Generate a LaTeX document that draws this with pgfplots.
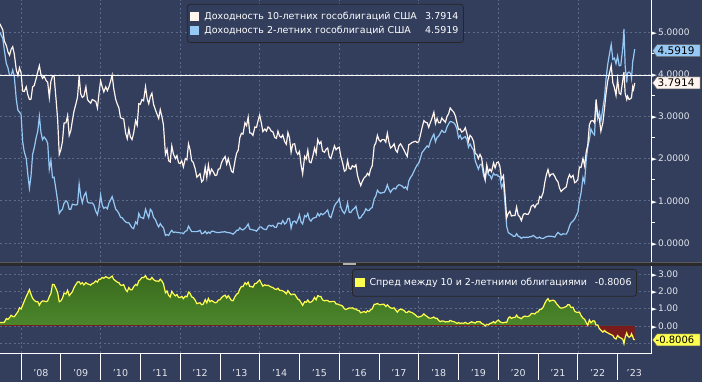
\documentclass[border=0pt]{standalone}
\usepackage{pgfplots}
\pgfplotsset{compat=1.18}
\usepackage{pgfplotstable}
\usepackage{fontspec}
\setmainfont{DejaVu Sans}
\definecolor{bg}{RGB}{50,62,92}
\definecolor{gridc}{RGB}{92,106,138}
\definecolor{tenc}{RGB}{255,244,238}
\definecolor{twoc}{RGB}{150,200,245}
\definecolor{sprc}{RGB}{255,255,80}
\definecolor{gtop}{RGB}{58,106,30}
\definecolor{gbot}{RGB}{82,145,48}
\definecolor{negc}{RGB}{122,28,28}
\definecolor{labc}{RGB}{228,230,236}
\definecolor{sepc}{RGB}{42,42,46}
\newcommand{\tri}{{\color{white}\fontsize{7}{7}\selectfont ►}}
\newcommand{\tfont}{\fontsize{9}{11}\selectfont}
\newcommand{\lfont}{\fontsize{9.5}{11.5}\selectfont}
\newcommand{\gfont}{\fontsize{10.5}{12.5}\selectfont}

\pgfplotstableread{
t y10 y2 s
2007.46 5.20 5.00 0.20
2007.54 5.05 4.85 0.20
2007.58 4.78 4.56 0.22
2007.63 4.68 4.25 0.43
2007.67 4.53 4.15 0.38
2007.71 4.45 3.97 0.48
2007.75 4.59 3.97 0.62
2007.79 4.65 4.10 0.55
2007.83 4.47 3.94 0.53
2007.88 4.10 3.40 0.70
2007.92 3.97 3.15 0.82
2007.96 4.15 3.10 1.05
2008.00 4.03 3.05 0.98
2008.04 3.60 2.40 1.20
2008.08 3.59 2.16 1.43
2008.13 3.70 2.00 1.70
2008.17 3.51 1.62 1.89
2008.21 3.40 1.30 2.10
2008.25 3.41 1.59 1.82
2008.29 3.70 2.10 1.60
2008.33 3.73 2.25 1.48
2008.38 3.90 2.50 1.40
2008.42 4.06 2.65 1.41
2008.46 4.20 3.00 1.20
2008.50 3.99 2.62 1.37
2008.54 3.90 2.45 1.45
2008.58 3.95 2.51 1.44
2008.63 3.85 2.45 1.40
2008.67 3.81 2.36 1.45
2008.71 3.45 1.75 1.70
2008.75 3.83 1.96 1.87
2008.79 3.95 1.55 2.40
2008.83 3.95 1.56 2.39
2008.88 3.40 1.25 2.15
2008.92 2.92 0.99 1.93
2008.96 2.10 0.70 1.40
2009.00 2.21 0.76 1.45
2009.04 2.40 0.80 1.60
2009.08 2.84 0.94 1.90
2009.13 2.85 1.00 1.85
2009.17 3.02 0.96 2.06
2009.21 2.55 0.80 1.75
2009.25 2.66 0.80 1.86
2009.29 2.90 0.92 1.98
2009.33 3.12 0.91 2.21
2009.38 3.30 0.90 2.40
2009.42 3.46 0.92 2.54
2009.46 3.95 1.40 2.55
2009.50 3.53 1.11 2.42
2009.54 3.45 0.95 2.50
2009.58 3.48 1.11 2.37
2009.63 3.70 1.20 2.50
2009.67 3.40 0.97 2.43
2009.71 3.35 0.95 2.40
2009.75 3.31 0.95 2.36
2009.79 3.40 0.95 2.45
2009.83 3.38 0.90 2.48
2009.88 3.35 0.75 2.60
2009.92 3.20 0.67 2.53
2009.96 3.55 0.85 2.70
2010.00 3.84 1.14 2.70
2010.04 3.70 0.90 2.80
2010.08 3.58 0.82 2.76
2010.13 3.70 0.85 2.85
2010.17 3.61 0.81 2.80
2010.21 3.70 0.95 2.75
2010.25 3.83 1.02 2.81
2010.29 3.98 1.10 2.88
2010.33 3.66 0.97 2.69
2010.38 3.40 0.80 2.60
2010.42 3.29 0.76 2.53
2010.46 3.20 0.70 2.50
2010.50 2.97 0.61 2.36
2010.54 2.95 0.60 2.35
2010.58 2.94 0.55 2.39
2010.63 2.60 0.50 2.10
2010.67 2.47 0.48 1.99
2010.71 2.70 0.48 2.22
2010.75 2.51 0.42 2.09
2010.79 2.45 0.36 2.09
2010.83 2.60 0.34 2.26
2010.88 2.90 0.50 2.40
2010.92 2.79 0.45 2.34
2010.96 3.30 0.70 2.60
2011.00 3.29 0.61 2.68
2011.04 3.40 0.60 2.80
2011.08 3.37 0.58 2.79
2011.13 3.70 0.80 2.90
2011.17 3.42 0.69 2.73
2011.21 3.30 0.60 2.70
2011.25 3.47 0.80 2.67
2011.29 3.55 0.75 2.80
2011.33 3.29 0.61 2.68
2011.38 3.15 0.55 2.60
2011.42 3.05 0.45 2.60
2011.46 2.95 0.38 2.57
2011.50 3.16 0.46 2.70
2011.54 3.00 0.40 2.60
2011.58 2.80 0.36 2.44
2011.63 2.10 0.18 1.92
2011.67 2.22 0.20 2.02
2011.71 1.95 0.18 1.77
2011.75 1.92 0.25 1.67
2011.79 2.30 0.30 2.00
2011.83 2.11 0.25 1.86
2011.88 2.00 0.26 1.74
2011.92 2.07 0.25 1.82
2011.96 1.90 0.25 1.65
2012.00 1.88 0.24 1.64
2012.04 1.95 0.24 1.71
2012.08 1.80 0.22 1.58
2012.13 2.00 0.28 1.72
2012.17 1.97 0.29 1.68
2012.21 2.35 0.40 1.95
2012.25 2.21 0.33 1.88
2012.29 1.95 0.27 1.68
2012.33 1.91 0.27 1.64
2012.38 1.75 0.27 1.48
2012.42 1.56 0.27 1.29
2012.46 1.60 0.28 1.32
2012.50 1.64 0.30 1.34
2012.54 1.45 0.22 1.23
2012.58 1.49 0.23 1.26
2012.63 1.80 0.28 1.52
2012.67 1.55 0.22 1.33
2012.71 1.85 0.26 1.59
2012.75 1.63 0.23 1.40
2012.79 1.75 0.28 1.47
2012.83 1.69 0.28 1.41
2012.88 1.60 0.26 1.34
2012.92 1.61 0.25 1.36
2012.96 1.75 0.25 1.50
2013.00 1.76 0.25 1.51
2013.04 1.90 0.26 1.64
2013.08 1.98 0.26 1.72
2013.13 2.05 0.27 1.78
2013.17 1.87 0.25 1.62
2013.21 2.00 0.25 1.75
2013.25 1.85 0.24 1.61
2013.29 1.70 0.23 1.47
2013.33 1.67 0.21 1.46
2013.38 1.95 0.25 1.70
2013.42 2.13 0.30 1.83
2013.46 2.20 0.30 1.90
2013.50 2.49 0.36 2.13
2013.54 2.60 0.32 2.28
2013.58 2.58 0.31 2.27
2013.63 2.85 0.35 2.50
2013.67 2.78 0.39 2.39
2013.71 2.98 0.45 2.53
2013.75 2.61 0.33 2.28
2013.79 2.60 0.32 2.28
2013.83 2.55 0.31 2.24
2013.88 2.75 0.30 2.45
2013.92 2.74 0.28 2.46
2013.96 2.90 0.33 2.57
2014.00 3.03 0.38 2.65
2014.04 2.85 0.38 2.47
2014.08 2.64 0.34 2.30
2014.13 2.70 0.32 2.38
2014.17 2.65 0.32 2.33
2014.21 2.75 0.40 2.35
2014.25 2.72 0.42 2.30
2014.29 2.65 0.40 2.25
2014.33 2.64 0.42 2.22
2014.38 2.50 0.37 2.13
2014.42 2.48 0.37 2.11
2014.46 2.65 0.47 2.18
2014.50 2.53 0.47 2.06
2014.54 2.50 0.45 2.05
2014.58 2.56 0.53 2.03
2014.63 2.40 0.45 1.95
2014.67 2.34 0.48 1.86
2014.71 2.62 0.58 2.04
2014.75 2.49 0.58 1.91
2014.79 2.15 0.35 1.80
2014.83 2.34 0.50 1.84
2014.88 2.35 0.52 1.83
2014.92 2.16 0.47 1.69
2014.96 2.10 0.55 1.55
2015.00 2.17 0.67 1.50
2015.04 1.85 0.50 1.35
2015.08 1.64 0.45 1.19
2015.13 2.05 0.65 1.40
2015.17 1.99 0.62 1.37
2015.21 2.20 0.70 1.50
2015.25 1.92 0.56 1.36
2015.29 1.90 0.52 1.38
2015.33 2.03 0.58 1.45
2015.38 2.25 0.60 1.65
2015.42 2.12 0.61 1.51
2015.46 2.45 0.70 1.75
2015.50 2.35 0.64 1.71
2015.54 2.40 0.70 1.70
2015.58 2.18 0.67 1.51
2015.63 2.15 0.70 1.45
2015.67 2.22 0.74 1.48
2015.71 2.25 0.78 1.47
2015.75 2.04 0.64 1.40
2015.79 2.00 0.60 1.40
2015.83 2.14 0.72 1.42
2015.88 2.30 0.88 1.42
2015.92 2.21 0.94 1.27
2015.96 2.25 0.98 1.27
2016.00 2.27 1.05 1.22
2016.04 2.05 0.85 1.20
2016.08 1.92 0.76 1.16
2016.13 1.70 0.70 1.00
2016.17 1.73 0.78 0.95
2016.21 1.95 0.95 1.00
2016.25 1.77 0.73 1.04
2016.29 1.75 0.72 1.03
2016.33 1.83 0.78 1.05
2016.38 1.80 0.82 0.98
2016.42 1.85 0.87 0.98
2016.46 1.60 0.70 0.90
2016.50 1.47 0.58 0.89
2016.54 1.36 0.60 0.76
2016.58 1.46 0.66 0.80
2016.63 1.55 0.72 0.83
2016.67 1.58 0.81 0.77
2016.71 1.65 0.77 0.88
2016.75 1.60 0.77 0.83
2016.79 1.75 0.82 0.93
2016.83 1.83 0.84 0.99
2016.88 2.30 1.05 1.25
2016.92 2.37 1.11 1.26
2016.96 2.55 1.25 1.30
2017.00 2.44 1.20 1.24
2017.04 2.40 1.18 1.22
2017.08 2.45 1.19 1.26
2017.13 2.45 1.20 1.25
2017.17 2.39 1.26 1.13
2017.21 2.60 1.38 1.22
2017.25 2.39 1.27 1.12
2017.29 2.25 1.20 1.05
2017.33 2.28 1.26 1.02
2017.38 2.35 1.30 1.05
2017.42 2.20 1.28 0.92
2017.46 2.15 1.35 0.80
2017.50 2.30 1.38 0.92
2017.54 2.35 1.37 0.98
2017.58 2.29 1.35 0.94
2017.63 2.20 1.30 0.90
2017.67 2.12 1.33 0.79
2017.71 2.05 1.27 0.78
2017.75 2.33 1.47 0.86
2017.79 2.35 1.55 0.80
2017.83 2.38 1.60 0.78
2017.88 2.40 1.70 0.70
2017.92 2.41 1.78 0.63
2017.96 2.38 1.85 0.53
2018.00 2.40 1.89 0.51
2018.04 2.55 2.00 0.55
2018.08 2.72 2.14 0.58
2018.13 2.90 2.20 0.70
2018.17 2.86 2.25 0.61
2018.21 2.85 2.30 0.55
2018.25 2.74 2.27 0.47
2018.29 2.85 2.40 0.45
2018.33 2.95 2.49 0.46
2018.38 3.10 2.58 0.52
2018.42 2.83 2.40 0.43
2018.46 2.95 2.50 0.45
2018.50 2.85 2.53 0.32
2018.54 2.85 2.60 0.25
2018.58 2.96 2.67 0.29
2018.63 2.90 2.62 0.28
2018.67 2.86 2.63 0.23
2018.71 3.00 2.75 0.25
2018.75 3.06 2.82 0.24
2018.79 3.20 2.88 0.32
2018.83 3.15 2.87 0.28
2018.88 3.10 2.85 0.25
2018.92 3.01 2.80 0.21
2018.96 2.85 2.70 0.15
2019.00 2.69 2.49 0.20
2019.04 2.70 2.55 0.15
2019.08 2.63 2.46 0.17
2019.13 2.66 2.50 0.16
2019.17 2.73 2.52 0.21
2019.21 2.60 2.45 0.15
2019.25 2.41 2.27 0.14
2019.29 2.55 2.35 0.20
2019.33 2.51 2.27 0.24
2019.38 2.40 2.20 0.20
2019.42 2.12 1.95 0.17
2019.46 2.10 1.85 0.25
2019.50 2.00 1.75 0.25
2019.54 2.10 1.85 0.25
2019.58 2.02 1.87 0.15
2019.63 1.70 1.60 0.10
2019.67 1.50 1.50 0.00
2019.71 1.85 1.75 0.10
2019.75 1.68 1.62 0.06
2019.79 1.75 1.60 0.15
2019.83 1.69 1.52 0.17
2019.88 1.90 1.65 0.25
2019.92 1.78 1.61 0.17
2019.96 1.90 1.62 0.28
2020.00 1.92 1.58 0.34
2020.04 1.82 1.57 0.25
2020.08 1.51 1.31 0.20
2020.13 1.60 1.42 0.18
2020.17 1.13 0.91 0.22
2020.21 0.60 0.40 0.20
2020.25 0.70 0.25 0.45
2020.29 0.75 0.22 0.53
2020.33 0.64 0.20 0.44
2020.38 0.65 0.16 0.49
2020.42 0.65 0.16 0.49
2020.46 0.85 0.22 0.63
2020.50 0.66 0.16 0.50
2020.54 0.62 0.15 0.47
2020.58 0.53 0.11 0.42
2020.63 0.68 0.14 0.54
2020.67 0.70 0.13 0.57
2020.71 0.68 0.14 0.54
2020.75 0.68 0.13 0.55
2020.79 0.75 0.15 0.60
2020.83 0.87 0.15 0.72
2020.88 0.90 0.18 0.72
2020.92 0.84 0.15 0.69
2020.96 0.92 0.12 0.80
2021.00 0.93 0.12 0.81
2021.04 1.10 0.14 0.96
2021.08 1.07 0.11 0.96
2021.13 1.20 0.11 1.09
2021.17 1.44 0.13 1.31
2021.21 1.62 0.15 1.47
2021.25 1.74 0.16 1.58
2021.29 1.58 0.16 1.42
2021.33 1.63 0.16 1.47
2021.38 1.64 0.15 1.49
2021.42 1.58 0.14 1.44
2021.46 1.50 0.20 1.30
2021.50 1.45 0.25 1.20
2021.54 1.30 0.22 1.08
2021.58 1.22 0.19 1.03
2021.63 1.27 0.22 1.05
2021.67 1.30 0.21 1.09
2021.71 1.33 0.21 1.12
2021.75 1.52 0.28 1.24
2021.79 1.62 0.40 1.22
2021.83 1.55 0.48 1.07
2021.88 1.60 0.52 1.08
2021.92 1.43 0.57 0.86
2021.96 1.45 0.65 0.80
2022.00 1.51 0.73 0.78
2022.04 1.80 1.00 0.80
2022.08 1.79 1.18 0.61
2022.13 2.00 1.55 0.45
2022.17 1.83 1.44 0.39
2022.21 2.15 1.95 0.20
2022.25 2.32 2.28 0.04
2022.29 2.80 2.45 0.35
2022.33 2.89 2.70 0.19
2022.38 2.90 2.60 0.30
2022.42 2.85 2.56 0.29
2022.46 3.40 3.35 0.05
2022.50 3.01 2.95 0.06
2022.54 2.95 3.10 -0.15
2022.58 2.65 2.89 -0.24
2022.63 2.85 3.20 -0.35
2022.67 3.19 3.45 -0.26
2022.71 3.55 3.90 -0.35
2022.75 3.83 4.22 -0.39
2022.79 4.00 4.45 -0.45
2022.84 4.20 4.70 -0.50
2022.88 3.80 4.35 -0.55
2022.92 3.68 4.38 -0.70
2022.96 3.50 4.25 -0.75
2023.00 3.88 4.43 -0.55
2023.04 3.55 4.20 -0.65
2023.08 3.52 4.21 -0.69
2023.13 3.85 4.62 -0.77
2023.16 4.05 5.07 -1.02
2023.19 3.55 4.20 -0.65
2023.23 3.40 3.80 -0.40
2023.25 3.48 4.03 -0.55
2023.29 3.40 4.05 -0.65
2023.33 3.42 4.01 -0.59
2023.35 3.45 3.90 -0.45
2023.38 3.70 4.30 -0.60
2023.40 3.64 4.40 -0.76
2023.43 3.7914 4.5919 -0.8006
}\datatab

\begin{document}
\begin{tikzpicture}[x=1pt,y=1pt]
\path[use as bounding box] (0pt,0pt) rectangle (702pt,382pt);
\fill[bg] (0pt,0pt) rectangle (702pt,382pt);

% ---------- top panel ----------
\begin{axis}[
  name=toppanel,
  at={(0pt,120pt)}, anchor=south west, width=651pt, height=262pt, scale only axis,
  xmin=2007.47, xmax=2023.84, ymin=-0.45, ymax=5.758,
  clip=false,
  axis line style={draw=none},
  xtick={2008,2010,2012,2014,2016,2018,2020,2022}, xticklabels={},
  ytick={0,1,2,3,4,5}, minor y tick num=1,
  ytick pos=right, yticklabel pos=right,
  major tick length=0pt, minor tick length=4pt, tick align=outside,
  minor tick style={white, line width=0.6pt},
  grid=major, grid style={gridc, dash pattern=on 2pt off 2.5pt, line width=0.6pt},
  /pgf/number format/assume math mode=true,
  yticklabel={\tri\hspace{1pt}\pgfmathprintnumber[fixed,fixed zerofill,precision=4]{\tick}},
  yticklabel style={anchor=west, inner sep=0pt, xshift=0.5pt, font=\tfont, text=labc},
  legend style={at={(0.287,0.985)}, anchor=north west, fill=bg, draw=black!85,
    rounded corners=3pt, text=white, font=\lfont, inner xsep=3pt, inner ysep=5.5pt,
    row sep=1.5pt, cells={anchor=west}, line width=0.8pt,
    /tikz/every odd column/.append style={column sep=3pt}},
  reverse legend,
  legend image code/.code={\fill[#1, sharp corners] (0pt,-4pt) rectangle (8pt,4pt);},
]
\addplot[twoc, line width=1.2pt] table[x=t,y=y2]{\datatab};
\addlegendentry{\makebox[216pt][l]{Доходность 2-летних гособлигаций США}\makebox[38pt][r]{4.5919}}
\addplot[tenc, line width=1.2pt] table[x=t,y=y10]{\datatab};
\addlegendentry{\makebox[216pt][l]{Доходность 10-летних гособлигаций США}\makebox[38pt][r]{3.7914}}
\addplot[white, line width=1pt, forget plot] coordinates {(2007.47,3.98) (2023.84,3.98)};
\draw[white, line width=0.8pt] (rel axis cs:1,0) -- (rel axis cs:1,1);
\coordinate (tagA) at (axis cs:2023.84,4.5919);
\coordinate (tagB) at (axis cs:2023.84,3.7914);
\end{axis}

% ---------- bottom panel ----------
\begin{axis}[
  name=botpanel,
  at={(0pt,29pt)}, anchor=south west, width=651pt, height=87pt, scale only axis,
  xmin=2007.47, xmax=2023.84, ymin=-1.558, ymax=3.462,
  clip=false,
  axis line style={draw=none},
  xtick={2008.5,2009.5,2010.5,2011.5,2012.5,2013.5,2014.5,2015.5,2016.5,2017.5,2018.5,2019.5,2020.5,2021.5,2022.5,2023.42},
  xticklabels={'08,'09,'10,'11,'12,'13,'14,'15,'16,'17,'18,'19,'20,'21,'22,'23},
  minor xtick={2008,2009,2010,2011,2012,2013,2014,2015,2016,2017,2018,2019,2020,2021,2022,2023},
  xtick pos=left, ytick pos=right, yticklabel pos=right,
  major tick length=0pt, minor tick length=27pt, tick align=outside,
  minor tick style={white, line width=0.8pt},
  ytick={0,1,2,3},
  extra x ticks={2008,2010,2012,2014,2016,2018,2020,2022}, extra x tick labels={},
  extra x tick style={grid=major},
  extra y ticks={-1}, extra y tick labels={}, extra y tick style={grid=major},
  xmajorgrids=false, ymajorgrids=true,
  grid style={gridc, dash pattern=on 2pt off 2.5pt, line width=0.6pt},
  /pgf/number format/assume math mode=true,
  xticklabel style={anchor=base, yshift=-23.5pt, font=\lfont, text=labc},
  yticklabel={\tri\hspace{1pt}\pgfmathprintnumber[fixed,fixed zerofill,precision=2]{\tick}},
  yticklabel style={anchor=west, inner sep=0pt, xshift=0.5pt, font=\tfont, text=labc},
  legend style={at={(0.5407,0.9655)}, anchor=north west, fill=bg, draw=black!85,
    rounded corners=3pt, text=white, font=\lfont, inner xsep=3pt, inner ysep=7pt,
    cells={anchor=west}, line width=0.8pt,
    /tikz/every odd column/.append style={column sep=3pt}},
  legend image code/.code={\fill[#1, sharp corners] (0pt,-4pt) rectangle (8pt,4pt);},
]
\begin{scope}
\clip (axis cs:2007.47,0) rectangle (axis cs:2023.84,3.462);
\addplot[draw=none, forget plot, top color=gtop, bottom color=gbot] table[x=t,y=s]{\datatab} \closedcycle;
\end{scope}
\begin{scope}
\clip (axis cs:2007.47,-1.558) rectangle (axis cs:2023.84,0);
\addplot[draw=none, forget plot, fill=negc] table[x=t,y=s]{\datatab} \closedcycle;
\end{scope}
\addplot[sprc, line width=1.2pt] table[x=t,y=s]{\datatab};
\addlegendentry{\makebox[222pt][l]{Спред между 10 и 2-летними облигациями}\makebox[40pt][r]{-0.8006}}
\draw[white, line width=0.8pt] (rel axis cs:0,0) -- (rel axis cs:1,0) -- (rel axis cs:1,1);
\coordinate (tagC) at (axis cs:2023.84,-0.8006);
\end{axis}

% separator between panels
\fill[sepc] (0pt,116pt) rectangle (702pt,120pt);
\draw[black!65, line width=0.5pt] (0pt,120pt) -- (702pt,120pt);
\draw[black!30, line width=0.6pt] (343pt,118.8pt) -- (356pt,118.8pt);
\draw[black!30, line width=0.6pt] (343pt,117.2pt) -- (356pt,117.2pt);

% value tags
\draw[fill=twoc, draw=black!60, line width=0.5pt] ([xshift=1.5pt,yshift=-1.5pt]tagA) -- ++(4.5pt,6pt) -- ++(43pt,0pt) -- ++(0pt,-12pt) -- ++(-43pt,0pt) -- cycle;
\node[anchor=west, inner sep=0pt, font=\gfont, text=black] at ([xshift=6.5pt,yshift=-1.5pt]tagA) {4.5919};
\draw[fill=tenc, draw=black!60, line width=0.5pt] ([xshift=1.5pt]tagB) -- ++(4.5pt,6pt) -- ++(43pt,0pt) -- ++(0pt,-12pt) -- ++(-43pt,0pt) -- cycle;
\node[anchor=west, inner sep=0pt, font=\gfont, text=black] at ([xshift=6.5pt]tagB) {3.7914};
\draw[fill=sprc, draw=black!60, line width=0.5pt] ([xshift=1.5pt]tagC) -- ++(4.5pt,6pt) -- ++(43pt,0pt) -- ++(0pt,-12pt) -- ++(-43pt,0pt) -- cycle;
\node[anchor=west, inner sep=0pt, font=\fontsize{10}{12}\selectfont, text=black] at ([xshift=4.5pt]tagC) {-0.8006};
\end{tikzpicture}
\end{document}
